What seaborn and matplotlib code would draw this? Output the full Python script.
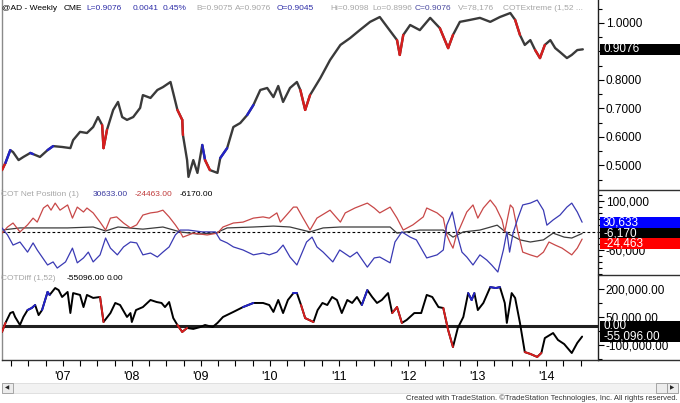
import matplotlib
matplotlib.use("Agg")
import matplotlib.pyplot as plt
import matplotlib.ticker as mticker
from matplotlib.patches import Rectangle
from matplotlib.lines import Line2D
import seaborn as sns

# ---------------- data (time in decimal years) ----------------
price_x = [2006.12, 2006.17, 2006.24, 2006.28, 2006.36, 2006.43, 2006.53, 2006.57, 2006.67, 2006.78,
           2006.86, 2006.99, 2007.11, 2007.15, 2007.25, 2007.35, 2007.44, 2007.51, 2007.57, 2007.59,
           2007.64, 2007.73, 2007.80, 2007.86, 2007.93, 2008.02, 2008.12, 2008.16, 2008.27, 2008.37,
           2008.45, 2008.56, 2008.60, 2008.66, 2008.73, 2008.74, 2008.80, 2008.82, 2008.89, 2008.95,
           2009.02, 2009.06, 2009.13, 2009.24, 2009.28, 2009.38, 2009.47, 2009.57, 2009.67, 2009.76,
           2009.86, 2009.96, 2010.05, 2010.12, 2010.19, 2010.29, 2010.39, 2010.44, 2010.51, 2010.58,
           2010.73, 2010.87, 2011.02, 2011.16, 2011.30, 2011.45, 2011.59, 2011.71, 2011.84, 2011.88,
           2011.93, 2012.03, 2012.17, 2012.32, 2012.46, 2012.58, 2012.65, 2012.75, 2012.90, 2013.04,
           2013.19, 2013.33, 2013.48, 2013.55, 2013.62, 2013.69, 2013.77, 2013.84, 2013.91, 2013.98,
           2014.06, 2014.13, 2014.20, 2014.30, 2014.37, 2014.45, 2014.53]
price_y = [0.484, 0.509, 0.554, 0.547, 0.519, 0.530, 0.544, 0.540, 0.530, 0.554,
           0.568, 0.565, 0.561, 0.589, 0.618, 0.614, 0.635, 0.670, 0.642, 0.561,
           0.625, 0.695, 0.723, 0.670, 0.660, 0.670, 0.702, 0.747, 0.737, 0.765,
           0.775, 0.793, 0.754, 0.695, 0.660, 0.607, 0.519, 0.460, 0.519, 0.474,
           0.572, 0.519, 0.484, 0.474, 0.526, 0.561, 0.635, 0.649, 0.677, 0.712,
           0.765, 0.772, 0.740, 0.779, 0.723, 0.772, 0.793, 0.765, 0.695, 0.747,
           0.807, 0.870, 0.923, 0.947, 0.975, 1.004, 1.021, 0.982, 0.940, 0.888,
           0.958, 0.993, 0.975, 1.018, 0.982, 0.912, 0.958, 1.004, 1.011, 1.018,
           1.004, 1.021, 1.035, 1.011, 0.958, 0.923, 0.940, 0.905, 0.877, 0.923,
           0.940, 0.912, 0.898, 0.877, 0.888, 0.905, 0.9076]
price_state = ("rbkkkkbkkb" "kkkkkkkkrr" "kkkkkkkkkk" "kkkrrkkkkk" "brkkbkkkbk"
               "kkkkkkkrrk" "kkkkkkkkrr" "kkkkrrkkkk" "kkkrkkkrrk" "kkkkkkk")

red_x = [2006.12, 2006.20, 2006.28, 2006.38, 2006.49, 2006.57, 2006.63, 2006.72, 2006.78, 2006.83, 2006.89, 2006.96,
         2007.07, 2007.14, 2007.21, 2007.30, 2007.35, 2007.44, 2007.54, 2007.62, 2007.69, 2007.78, 2007.88, 2007.98,
         2008.07, 2008.16, 2008.27, 2008.37, 2008.45, 2008.54, 2008.63, 2008.70, 2008.74, 2008.89,
         2009.09, 2009.24, 2009.32, 2009.47, 2009.61, 2009.76, 2009.90, 2009.99,
         2010.10, 2010.15, 2010.24, 2010.34, 2010.39, 2010.48, 2010.58, 2010.68, 2010.87,
         2011.02, 2011.09, 2011.23, 2011.41, 2011.51, 2011.59, 2011.74, 2011.84, 2011.93,
         2012.07, 2012.22, 2012.27, 2012.42, 2012.51, 2012.56, 2012.61, 2012.65, 2012.70, 2012.75, 2012.85, 2012.94,
         2013.01, 2013.09, 2013.19, 2013.27, 2013.36, 2013.40, 2013.48, 2013.52, 2013.59, 2013.66, 2013.77, 2013.87, 2013.96,
         2014.04, 2014.13, 2014.23, 2014.37, 2014.45, 2014.52]
red_k = [-5, 15, 28, -1, 22, 44, 31, 77, 87, 70, 93, 70,
         87, 44, 80, 64, 77, 61, 31, 5, 44, 48, 28, 12,
         22, 54, 61, 64, 70, 48, 22, -1, -18, -5,
         -11, -5, 15, 28, 31, 44, 48, 44,
         61, 31, 54, 80, 80, 44, 5, 44, 70,
         31, 61, 77, 93, 77, 61, 80, 44, 5,
         22, 48, 77, 61, 44, -11, -37, -54, -11, 12, 64, 87,
         44, 77, 103, 80, 38, -1, 87, 77, -1, -67, -76, -83, -67,
         -34, -44, -54, -76, -54, -24.463]

blue_x = [2006.12, 2006.20, 2006.28, 2006.38, 2006.49, 2006.57, 2006.63, 2006.78, 2006.86, 2006.92,
          2007.04, 2007.14, 2007.21, 2007.30, 2007.37, 2007.44, 2007.54, 2007.62, 2007.69, 2007.79, 2007.88, 2007.98,
          2008.07, 2008.16, 2008.27, 2008.37, 2008.45, 2008.54, 2008.63, 2008.70, 2008.82,
          2009.02, 2009.21, 2009.28, 2009.38, 2009.47, 2009.61, 2009.76, 2009.90, 2009.99,
          2010.10, 2010.19, 2010.29, 2010.39, 2010.53, 2010.61, 2010.68, 2010.77, 2010.91,
          2011.01, 2011.16, 2011.26, 2011.41, 2011.51, 2011.59, 2011.74, 2011.81, 2011.91,
          2012.03, 2012.12, 2012.27, 2012.42, 2012.51, 2012.56, 2012.64, 2012.70, 2012.78, 2012.85, 2012.94,
          2013.04, 2013.14, 2013.21, 2013.30, 2013.38, 2013.43, 2013.47, 2013.52, 2013.59, 2013.66, 2013.77, 2013.87, 2013.96,
          2014.01, 2014.10, 2014.20, 2014.30, 2014.37, 2014.45, 2014.52]
blue_k = [12, -11, -44, -34, -67, -37, -60, -109, -99, -119,
          -99, -54, -102, -86, -67, -99, -76, -21, -54, -76, -50, -34,
          -37, -76, -70, -83, -67, -50, -11, 5, 5,
          -1, -1, -27, -37, -50, -60, -76, -70, -76,
          -67, -44, -83, -109, -34, -18, -50, -67, -99,
          -60, -83, -67, -116, -86, -83, -102, -34, -1,
          -18, -27, -86, -76, -60, 21, 64, -1, -67, -83, -109,
          -76, -93, -109, -132, -60, -1, -67, -5, 44, 87, 93, 103, 70,
          21, 38, 54, 80, 93, 64, 30.633]

blk_x = [2006.12, 2006.38, 2006.72, 2007.07, 2007.44, 2007.62, 2007.80, 2008.16, 2008.45, 2008.70,
         2008.95, 2009.21, 2009.38, 2009.76, 2010.05, 2010.29, 2010.58, 2010.77, 2011.02, 2011.45,
         2011.74, 2011.84, 2012.17, 2012.51, 2012.65, 2012.80, 2013.04, 2013.29, 2013.43, 2013.62,
         2013.77, 2013.96, 2014.10, 2014.26, 2014.37, 2014.52]
blk_k = [5, 12, 12, 12, 15, 2, 15, 8, 15, -1,
         -8, -5, 12, 15, 18, 15, -1, 12, 15, 15,
         15, -5, 5, 5, -18, -1, 5, 21, -5, -27,
         -34, -27, -5, -18, -21, -6.17]

diff_x = [2006.12, 2006.17, 2006.24, 2006.28, 2006.31, 2006.38, 2006.43, 2006.49, 2006.55, 2006.60,
          2006.65, 2006.70, 2006.78, 2006.81, 2006.89, 2006.94, 2006.99, 2007.07, 2007.11, 2007.15,
          2007.25, 2007.30, 2007.35, 2007.44, 2007.54, 2007.59, 2007.69, 2007.76, 2007.83, 2007.93,
          2007.98, 2008.00, 2008.06, 2008.16, 2008.27, 2008.36, 2008.43, 2008.48, 2008.54, 2008.60,
          2008.66, 2008.73, 2008.80, 2008.89, 2008.99, 2009.06, 2009.17, 2009.24, 2009.32, 2009.47,
          2009.61, 2009.76, 2009.90, 2009.99, 2010.05, 2010.12, 2010.19, 2010.26, 2010.34, 2010.39,
          2010.45, 2010.51, 2010.63, 2010.69, 2010.76, 2010.83, 2010.90, 2010.97, 2011.04, 2011.12,
          2011.19, 2011.26, 2011.33, 2011.41, 2011.48, 2011.55, 2011.62, 2011.71, 2011.77, 2011.84,
          2011.91, 2011.98, 2012.09, 2012.19, 2012.27, 2012.35, 2012.44, 2012.51, 2012.58, 2012.65,
          2012.72, 2012.80, 2012.87, 2012.92, 2012.96, 2013.01, 2013.09, 2013.19, 2013.27, 2013.33,
          2013.40, 2013.43, 2013.50, 2013.55, 2013.62, 2013.69, 2013.77, 2013.87, 2013.93, 2013.98,
          2014.10, 2014.17, 2014.26, 2014.37, 2014.45, 2014.52]
diff_k = [-30, 18, 71, 77, 50, 7, 50, 87, 98, 114,
          60, 87, 184, 168, 205, 194, 157, 184, 71, 178,
          168, 103, 168, 152, 157, 23, 71, 125, 114, 50,
          71, 23, 87, 103, 141, 130, 125, 103, 130, 44,
          7, -30, -9, -14, -4, 7, -4, 18, 50, 77,
          103, 125, 125, 114, 77, 141, 71, 141, 178, 178,
          114, 44, 23, 87, 125, 114, 157, 141, 71, 141,
          125, 157, 114, 194, 157, 125, 141, 178, 71, 103,
          18, 34, 71, 71, 168, 157, 103, 98, -20, -111,
          -9, 50, 178, 141, 178, 87, 125, 210, 205, 210,
          125, 18, 178, 152, 18, -138, -148, -164, -143, -63,
          -36, -73, -95, -143, -89, -55.096]
diff_state = ("rkkkkkkbbk" "kbbkkkkkkk" "kkkkrkkkkk" "kkkkkkkkkk" "rrkkkkkkkk"
              "bkkkkkkkbk" "rrkkkkkkkk" "kkbkkkkkrr" "kkkkkkkrrk" "kkbbkkkbbk"
              "kkkkkrrrkk" "kkkkkk")

year_ticks = [2007, 2008, 2009, 2010, 2011, 2012, 2013, 2014]
year_labels = ["'07", "'08", "'09", "'10", "'11", "'12", "'13", "'14"]

price_ticks = [0.5, 0.6, 0.7, 0.8, 0.9, 1.0]
price_tick_labels = ["0.5000", "0.6000", "0.7000", "0.8000", "", "1.0000"]
net_ticks = [100000, 20000, -60000]
net_tick_labels = ["100,000", "", "-60,000"]
diff_ticks = [200000, 50000, -100000]
diff_tick_labels = ["200,000.00", "50,000.00", "-100,000.00"]

last_price = 0.9076
last_blue, last_red, last_black = 30633, -24463, -6170
last_diff, diff_zero = -55096, 0.0

# ---------------- style ----------------
sns.set_theme(style="white")
plt.rcParams['font.family'] = ['Liberation Sans', 'DejaVu Sans']

W, H = 680, 403
fig = plt.figure(figsize=(W / 100, H / 100), dpi=100)
fig.patch.set_facecolor('white')


def fx(p):
    return p / W


def fy(p):
    return 1 - p / H


L, R = 2, 598
XMIN, XMAX = 2006.12, 2014.75
ax1 = fig.add_axes([fx(L), fy(190), (R - L) / W, 190 / H])
ax2 = fig.add_axes([fx(L), fy(275), (R - L) / W, 85 / H])
ax3 = fig.add_axes([fx(L), fy(360), (R - L) / W, 85 / H])

COL = {'r': '#d81e1e', 'b': '#2323c8'}


def colored(ax, xs, ys, states, lw):
    for i in range(len(xs) - 1):
        c = states[i]
        if c != 'k':
            sns.lineplot(x=[xs[i], xs[i + 1]], y=[ys[i], ys[i + 1]], ax=ax, color=COL[c],
                         lw=lw, estimator=None, sort=False, zorder=4)


# price panel
sns.lineplot(x=price_x, y=price_y, ax=ax1, color='#3a3a3a', lw=1.7, estimator=None, sort=False, zorder=3)
colored(ax1, price_x, price_y, price_state, 1.7)

# COT net positions
ax2.axhline(0, color='black', lw=0.8, ls=(0, (2.5, 2)), zorder=1)
sns.lineplot(x=red_x, y=[v * 1000 for v in red_k], ax=ax2, color='#c84848', lw=0.9,
             estimator=None, sort=False, zorder=3)
sns.lineplot(x=blue_x, y=[v * 1000 for v in blue_k], ax=ax2, color='#3a3ab4', lw=0.9,
             estimator=None, sort=False, zorder=3)
sns.lineplot(x=blk_x, y=[v * 1000 for v in blk_k], ax=ax2, color='#3c3c3c', lw=0.9,
             estimator=None, sort=False, zorder=2)

# COTDiff
diff_v = [v * 1000 for v in diff_k]
ax3.axhline(0, color='#202020', lw=2.2, zorder=1)
sns.lineplot(x=diff_x, y=diff_v, ax=ax3, color='black', lw=1.4, estimator=None, sort=False, zorder=3)
colored(ax3, diff_x, diff_v, diff_state, 1.4)

# ---------------- axes formatting ----------------
for ax in (ax1, ax2, ax3):
    ax.set_xlim(XMIN, XMAX)
    ax.set_facecolor('white')
    ax.set_xlabel('')
    ax.set_ylabel('')
    ax.grid(False)
    ax.spines['top'].set_visible(False)
    ax.spines['left'].set_color('#8a8a8a')
    ax.spines['left'].set_linewidth(1.0)
    ax.spines['right'].set_color('#202020')
    ax.spines['right'].set_linewidth(1.0)
    ax.yaxis.tick_right()
    ax.tick_params(axis='y', which='both', direction='out', right=True, left=False,
                   labelright=True, labelleft=False, colors='black', labelsize=8.5,
                   pad=1.5, width=0.8)
    ax.tick_params(axis='y', which='major', length=4)
    ax.tick_params(axis='y', which='minor', length=3)

for ax in (ax1, ax2):
    ax.spines['bottom'].set_visible(False)
    ax.set_xticks([])

ax1.set_ylim(0.414, 1.0807)
ax1.set_yticks(price_ticks, labels=price_tick_labels)
ax1.yaxis.set_minor_locator(mticker.MultipleLocator(0.05))

ax2.set_ylim(-141700, 135800)
ax2.set_yticks(net_ticks, labels=net_tick_labels)
ax2.yaxis.set_minor_locator(mticker.MultipleLocator(20000))

ax3.set_ylim(-180500, 274800)
ax3.set_yticks(diff_ticks, labels=diff_tick_labels)
ax3.yaxis.set_minor_locator(mticker.FixedLocator([125000, -25000, -175000]))

ax3.spines['bottom'].set_color('#303030')
ax3.spines['bottom'].set_linewidth(1.0)
ax3.set_xticks(year_ticks)
ax3.set_xticklabels(year_labels)
ax3.set_xticks([y + q for y in range(2006, 2015) for q in (0.25, 0.5, 0.75)
                if XMIN < y + q < XMAX], minor=True)
ax3.tick_params(axis='x', which='both', direction='out', bottom=True, length=4, width=0.8,
                colors='black', labelsize=9, pad=4)

# ---------------- header texts ----------------
GRAY = '#a6a6a6'
BLUE = '#2e2ea8'
hdr = [(2, "@AD - Weekly", 'black'), (64, "CME", 'black'), (86, "L=0.9076", BLUE),
       (133, "0.0041", BLUE), (163, "0.45%", BLUE), (196, "B=0.9075", GRAY),
       (235, "A=0.9076", GRAY), (277, "O=0.9045", BLUE), (330, "Hi=0.9098", GRAY),
       (372, "Lo=0.8996", GRAY), (415, "C=0.9076", '#4a4aa0'), (458, "V=78,176", GRAY),
       (503, "COTExtreme (1,52 ...", GRAY)]
for x, t, c in hdr:
    fig.text(fx(x), fy(8), t, color=c, fontsize=6, va='center', ha='left')

mid_hdr = [(1, "COT Net Position (1)", GRAY), (93, f"{last_blue:.2f}", '#3a3aa0'),
           (135, f"{last_red:.2f}", '#c03c3c'), (180, f"{last_black:.2f}", 'black')]
for x, t, c in mid_hdr:
    fig.text(fx(x), fy(194), t, color=c, fontsize=6, va='center', ha='left')

bot_hdr = [(1, "COTDiff (1,52)", GRAY), (67, f"{last_diff:.2f}", 'black'),
           (107, f"{diff_zero:.2f}", 'black')]
for x, t, c in bot_hdr:
    fig.text(fx(x), fy(279), t, color=c, fontsize=6, va='center', ha='left')


# ---------------- last-value boxes ----------------
def box_rows(ax, vals, min_gap=10.0):
    """pixel-from-top centres of the value boxes, pushed apart so they stack"""
    tops = [H - ax.transData.transform((XMIN, v))[1] for v in vals]
    order = sorted(range(len(vals)), key=lambda i: tops[i])
    prev = None
    for i in order:
        if prev is not None and tops[i] < prev + min_gap:
            tops[i] = prev + min_gap
        prev = tops[i]
    return tops


def value_box(ytop, text, fc):
    fig.add_artist(Rectangle((fx(600), fy(ytop + 5.5)), 80 / W, 11 / H, transform=fig.transFigure,
                             facecolor=fc, edgecolor='none', zorder=5))
    fig.text(fx(603), fy(ytop), text, color='white', fontsize=8.5, va='center', ha='left', zorder=6)


(p_row,) = box_rows(ax1, [last_price])
value_box(p_row, f"{last_price:.4f}", 'black')

b_row, k_row, r_row = box_rows(ax2, [last_blue, last_black, last_red])
value_box(k_row, f"{last_black:,}", 'black')
value_box(b_row, f"{last_blue:,}", '#0000ff')
value_box(r_row, f"{last_red:,}", '#ff0000')

z_row, d_row = box_rows(ax3, [diff_zero, last_diff])
value_box(z_row, f"{diff_zero:,.2f}", 'black')
value_box(d_row, f"{last_diff:,.2f}", 'black')

# separators in the price-scale area
for yy in (190, 275, 360):
    fig.add_artist(Line2D([fx(598), 1], [fy(yy), fy(yy)], color='#303030', lw=1.0,
                          transform=fig.transFigure))

# ---------------- scrollbar & footer ----------------
fig.add_artist(Rectangle((fx(2), fy(393)), 676 / W, 10 / H, transform=fig.transFigure,
                         facecolor='#f2f2f2', edgecolor='#dcdcdc', lw=0.6))
for x0 in (2, 656, 667):
    fig.add_artist(Rectangle((fx(x0), fy(393)), 11 / W, 10 / H, transform=fig.transFigure,
                             facecolor='#ececec', edgecolor='#9a9a9a', lw=0.6))
fig.text(fx(7.5), fy(388), "\u25C0", fontsize=4, ha='center', va='center', family=['DejaVu Sans'])
fig.text(fx(672.5), fy(388), "\u25B6", fontsize=4, ha='center', va='center', family=['DejaVu Sans'])

fig.text(fx(678), fy(398), "Created with TradeStation. \u00A9TradeStation Technologies, Inc. All rights reserved.",
         ha='right', va='center', fontsize=5.5, color='#333333',
         family=['Liberation Sans Narrow', 'Liberation Sans', 'DejaVu Sans'])

fig.savefig('out.png', dpi=100, facecolor='white')
